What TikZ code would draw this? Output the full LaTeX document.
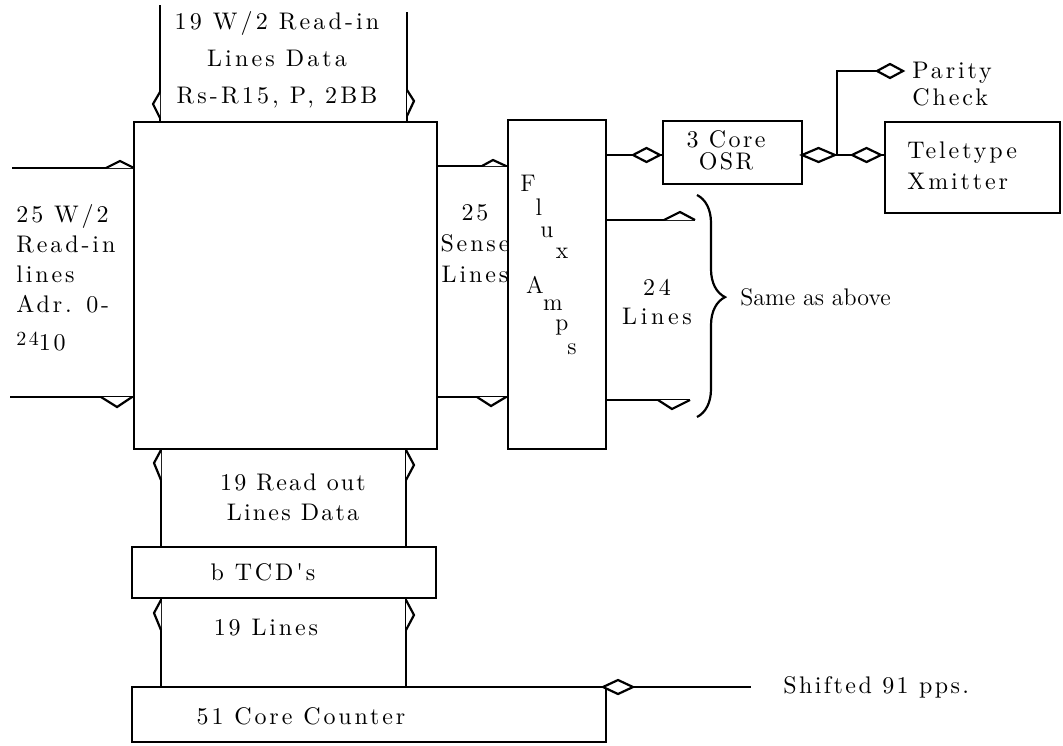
\documentclass[tikz,border=0pt]{standalone}
\usepackage{fontspec}
\newfontfamily\lmsp{lmroman10-regular.otf}[LetterSpace=12]
\usetikzlibrary{decorations.pathreplacing,calc}
\tikzset{
  wire/.style={line width=1.1pt},
  blk/.style={draw, line width=1.1pt, inner sep=0pt, outer sep=0pt},
  txt/.style={inner sep=0pt, font=\lmsp\fontsize{12}{15}\selectfont},
  ltr/.style={inner sep=0pt, font=\fontsize{12}{15}\selectfont},
  notch/.style={line width=1.1pt, fill=white},
}
\newcommand\dmd[3]{\draw[wire,fill=white] (#1,#3) -- ({(#1+#2)/2},{#3-7}) -- (#2,#3) -- ({(#1+#2)/2},{#3+7}) -- cycle;}
\begin{document}
\begin{tikzpicture}[x=0.5pt,y=-0.5pt]
\useasboundingbox (0,0) rectangle (1063,745);
% blocks
\node[blk, minimum width=151.5pt, minimum height=163.5pt] (mem) at (285.5,285.5) {};
\node[blk, minimum width=49pt, minimum height=164.5pt] (flux) at (557,284.5) {};
\node[blk, minimum width=69.5pt, minimum height=31.5pt] (osr) at (732.5,152.5) {};
\node[blk, minimum width=87.5pt, minimum height=45.5pt] (tty) at (972.5,167.5) {};
\node[blk, minimum width=152pt, minimum height=25.5pt] (tcd) at (284,572.5) {};
\node[blk, minimum width=237pt, minimum height=27.5pt] (ctr) at (369,714.5) {};
% free ends
\coordinate (tl) at (160,5);
\coordinate (tr) at (407,12);
\coordinate (lu) at (12,168);
\coordinate (ll) at (10,397);
\coordinate (fu) at (695,220);
\coordinate (fl) at (690,400);
\coordinate (jn) at (837,155);
\coordinate (pe) at (903,71);
\coordinate (se) at (751,687);
\coordinate (bl) at (161,0);
\coordinate (br) at (406,0);
% connectors
\draw[wire] (tl) -- (tl |- mem.north);
\draw[wire] (tr) -- (tr |- mem.north);
\draw[wire] (lu) -- (lu -| mem.west);
\draw[wire] (ll) -- (ll -| mem.west);
\draw[wire] (mem.east |- 0,166) -- (flux.west |- 0,166);
\draw[wire] (mem.east |- 0,397) -- (flux.west |- 0,397);
\draw[wire] (flux.east |- fu) -- (fu);
\draw[wire] (flux.east |- fl) -- (fl);
\draw[wire] (flux.east |- 0,155) -- (osr.west |- 0,155);
\draw[wire] (osr.east |- jn) -- (tty.west |- jn);
\draw[wire] (jn) -- (jn |- pe) -- (pe);
\draw[wire] (bl |- mem.south) -- (bl |- tcd.north);
\draw[wire] (br |- mem.south) -- (br |- tcd.north);
\draw[wire] (bl |- tcd.south) -- (bl |- ctr.north);
\draw[wire] (br |- tcd.south) -- (br |- ctr.north);
\draw[wire] (ctr.north east) -- (se);
% half-diamond marks
\draw[notch] (160,92) -- (153,104) -- (160,118);
\draw[notch] (407,90) -- (414,101) -- (407,116);
\draw[notch] (106,168) -- (120,161) -- (134,168);
\draw[notch] (101,397) -- (117,407) -- (132,397);
\draw[notch] (482,166) -- (493,160) -- (506,166);
\draw[notch] (477,397) -- (491,406) -- (506,397);
\draw[notch] (664,220) -- (680,212) -- (695,220);
\draw[notch] (658,400) -- (672,409) -- (690,400);
\draw[notch] (161,450) -- (154,463) -- (161,480);
\draw[notch] (406,450) -- (414,465) -- (406,480);
\draw[notch] (161,600) -- (154,613) -- (161,630);
\draw[notch] (406,600) -- (414,615) -- (406,630);
% open diamonds
\dmd{633}{660}{155}
\dmd{802}{835}{155}
\dmd{852}{881}{155}
\dmd{877}{903}{71}
\dmd{603}{633}{687}
% brace
\draw[wire, decorate, decoration={brace, amplitude=14pt, aspect=0.46}] (697,195) -- (697,417);
% texts
\node[txt, align=center, font=\lmsp\fontsize{12}{18.5}\selectfont\addfontfeatures{LetterSpace=13}] (toplbl) at (277,60) {19 W/2 Read-in\\Lines Data\\Rs-R15, P, 2BB};
\node[txt, align=left, anchor=west] (leftlbl) at (16,278) {25 W/2\\Read-in\\lines\\Adr. 0-\\[4pt]\raisebox{0.5ex}{\fontsize{10}{12}\selectfont 24}10};
\node[txt, align=center, font=\lmsp\fontsize{12}{15.5}\selectfont] (senselbl) at (475,244) {25\\Sense\\Lines};
\node[ltr] (f1) at (528,183) {F};
\node[ltr] (f2) at (539,207) {l};
\node[ltr] (f3) at (547,232) {u};
\node[ltr] (f4) at (562,253) {x};
\node[ltr] (f5) at (535,285) {A};
\node[ltr] (f6) at (553,305) {m};
\node[ltr] (f7) at (562,328) {p};
\node[ltr] (f8) at (572,349) {s};
\node[txt, align=center, font=\lmsp\fontsize{12}{14.5}\selectfont\addfontfeatures{LetterSpace=15}] (lines24) at (657,302) {24\\Lines};
\node[txt, anchor=west, font=\fontsize{12}{15}\selectfont] (same) at (740,297) {Same as above};
\node[txt, align=center, font=\lmsp\fontsize{12}{11}\selectfont\addfontfeatures{LetterSpace=10}] (osrlbl) at (726,150) {3 Core\\OSR};
\node[txt, align=left, anchor=west, font=\lmsp\fontsize{12}{15.5}\selectfont] (ttylbl) at (907,166) {Teletype\\Xmitter};
\node[txt, align=left, anchor=west, font=\lmsp\fontsize{12}{13.5}\selectfont] (parity) at (912,84) {Parity\\Check};
\node[txt, align=center, font=\lmsp\fontsize{12}{15}\selectfont\addfontfeatures{LetterSpace=9}] (readout) at (293,497) {19 Read out\\Lines Data};
\node[txt] (tcdlbl) at (263,572) {b TCD's};
\node[txt] (lines19) at (266,628) {19 Lines};
\node[txt] (ctrlbl) at (301,716) {51 Core Counter};
\node[txt, anchor=west, font=\lmsp\fontsize{12}{15}\selectfont\addfontfeatures{LetterSpace=10}] (shifted) at (783,687) {Shifted 91 pps.};
\end{tikzpicture}
\end{document}
